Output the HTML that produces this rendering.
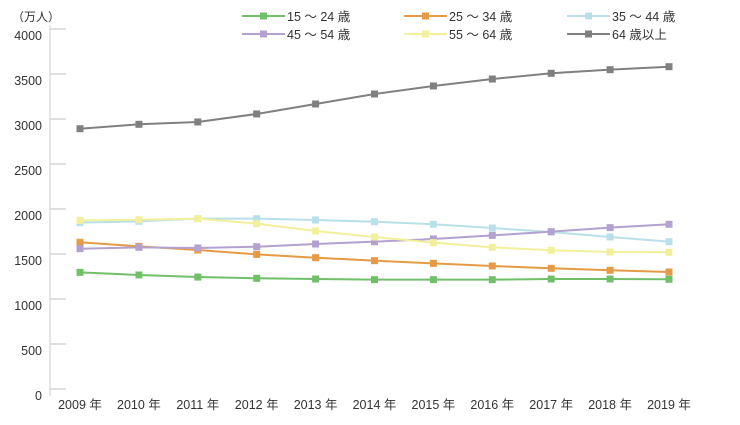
<!DOCTYPE html>
<html><head><meta charset="utf-8"><style>
body{margin:0;background:#fff;width:740px;height:420px;overflow:hidden}
text{font-family:"Liberation Sans","Noto Sans CJK JP",sans-serif;fill:#333}
</style></head><body>
<svg id="chart" width="740" height="420" xmlns="http://www.w3.org/2000/svg"></svg>
<script>
const categories=["2009 年","2010 年","2011 年","2012 年","2013 年","2014 年","2015 年","2016 年","2017 年","2018 年","2019 年"];
const yTicks=[0,500,1000,1500,2000,2500,3000,3500,4000];
const seriesNames=["15 ～ 24 歳","25 ～ 34 歳","35 ～ 44 歳","45 ～ 54 歳","55 ～ 64 歳","64 歳以上"];
const seriesColors=["#72bf6a","#e59a45","#b9e0ea","#b3a1d0","#f2f09a","#808080"];
const s15=[1296,1267,1244,1230,1222,1215,1215,1215,1222,1222,1219];
const s25=[1630,1585,1544,1496,1459,1426,1396,1367,1341,1319,1300];
const s35=[1848,1863,1893,1893,1878,1859,1830,1789,1744,1689,1637];
const s45=[1559,1574,1567,1581,1611,1637,1667,1707,1748,1793,1830];
const s55=[1874,1881,1893,1837,1756,1689,1626,1574,1541,1522,1519];
const s65=[2892,2941,2967,3056,3167,3278,3367,3444,3508,3548,3581];
const allSeries=[s15,s25,s35,s45,s55,s65];
const NS="http://www.w3.org/2000/svg";
const svg=document.getElementById('chart');
function xs(i){return 80+i*(669-80)/(categories.length-1);}
function ys(v){return 389-v*0.09;}
function mk(t,a,p){const e=document.createElementNS(NS,t);for(const k in a)e.setAttribute(k,a[k]);(p||svg).appendChild(e);return e;}
// axis
let ax=mk('line',{x1:50,y1:25,x2:50,y2:396,stroke:'#ddd','stroke-width':1.5});


let ut=mk('text',{x:12,y:21,'font-size':12});ut.textContent='（万人）';


yTicks.forEach(v=>{
 const y=ys(v);
 let t=mk('line',{x1:50,y1:y,x2:66,y2:y,stroke:'#ccc','stroke-width':1.2});
 
 
 let l=mk('text',{x:42,y:y+11,'font-size':12.5,'text-anchor':'end'});l.textContent=v;
 
 
});
categories.forEach((c,i)=>{
 let l=mk('text',{x:xs(i),y:409,'font-size':12.5,'text-anchor':'middle'});l.textContent=c;
 
 
});
allSeries.forEach((s,k)=>{
 const g=mk('g',{});
 
 
 let pl=mk('polyline',{points:s.map((v,i)=>xs(i)+','+ys(v)).join(' '),fill:'none',stroke:seriesColors[k],'stroke-width':2},g);
 
 
 s.forEach((v,i)=>{
  let r=mk('rect',{x:xs(i)-3.5,y:ys(v)-3.5,width:7,height:7,fill:seriesColors[k]},g);
  
  
 });
});
const lx=[242,404,567],ly=[16,34];
seriesNames.forEach((n,k)=>{
 const x=lx[k%3],y=ly[Math.floor(k/3)];
 const g=mk('g',{});
 
 
 mk('line',{x1:x,y1:y,x2:x+43,y2:y,stroke:seriesColors[k],'stroke-width':2},g);
 mk('rect',{x:x+18,y:y-3.5,width:7,height:7,fill:seriesColors[k]},g);
 let t=mk('text',{x:x+45,y:y+5,'font-size':12.5},g);t.textContent=n;
});
</script>
</body></html>
